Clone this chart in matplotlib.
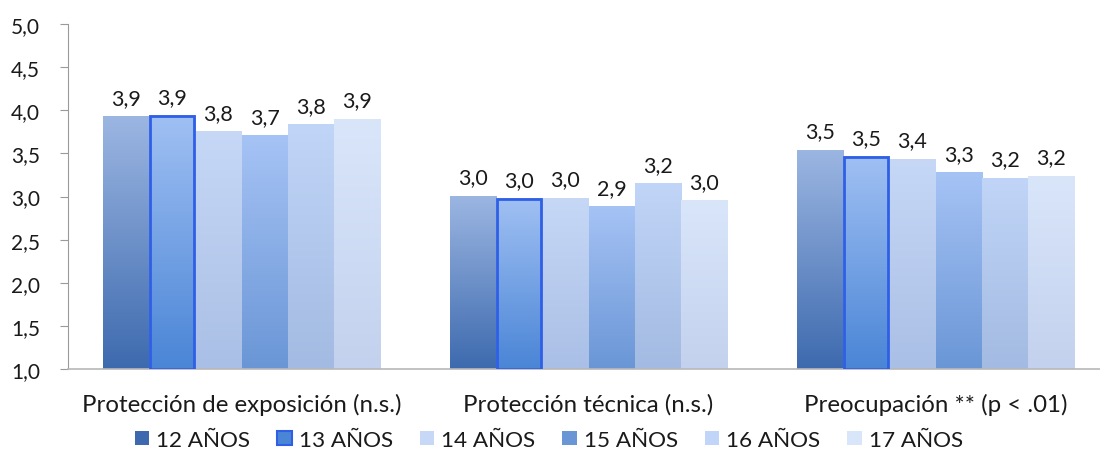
import matplotlib
matplotlib.use('Agg')
import matplotlib.pyplot as plt
import numpy as np
from matplotlib.colors import LinearSegmentedColormap
from matplotlib.patches import Patch

plt.rcParams['font.family'] = ['Lato', 'DejaVu Sans']

categories = ['Protección de exposición (n.s.)', 'Protección técnica (n.s.)', 'Preocupación ** (p < .01)']
ages = ['12 AÑOS', '13 AÑOS', '14 AÑOS', '15 AÑOS', '16 AÑOS', '17 AÑOS']
values = {
    '12 AÑOS': [3.93, 3.01, 3.54],
    '13 AÑOS': [3.94, 2.98, 3.47],
    '14 AÑOS': [3.76, 2.985, 3.44],
    '15 AÑOS': [3.71, 2.89, 3.28],
    '16 AÑOS': [3.84, 3.155, 3.22],
    '17 AÑOS': [3.90, 2.96, 3.24],
}
labels = {
    '12 AÑOS': ['3,9', '3,0', '3,5'],
    '13 AÑOS': ['3,9', '3,0', '3,5'],
    '14 AÑOS': ['3,8', '3,0', '3,4'],
    '15 AÑOS': ['3,7', '2,9', '3,3'],
    '16 AÑOS': ['3,8', '3,2', '3,2'],
    '17 AÑOS': ['3,9', '3,0', '3,2'],
}
# (bottom colour, top colour) for the gradient fill
grad = {
    '12 AÑOS': ('#3d6aae', '#9cb6e2'),
    '13 AÑOS': ('#4a85d6', '#a0c0f3'),
    '14 AÑOS': ('#aabfe6', '#c6d8f6'),
    '15 AÑOS': ('#6a96d6', '#a6c3f5'),
    '16 AÑOS': ('#a3bae2', '#c0d5f7'),
    '17 AÑOS': ('#c3d1ee', '#d9e6fa'),
}
edge13 = '#2f5fe6'
ymin, ymax = 1.0, 5.0

fig = plt.figure(figsize=(11, 4.56), dpi=100)
ax = fig.add_axes([68/1100, 1-370/456, 1041/1100, 345/456])

x = np.arange(len(categories))
w = 0.8 / len(ages)
grad_img = np.linspace(0, 1, 256).reshape(-1, 1)

for i, age in enumerate(ages):
    pos = x - 0.4 + w/2 + i*w
    cmap = LinearSegmentedColormap.from_list(age, list(grad[age]))
    lw = 2 if age == '13 AÑOS' else 0
    bars = ax.bar(pos, np.array(values[age]) - ymin, w, bottom=ymin, color='none', edgecolor='none')
    for b, lab in zip(bars, labels[age]):
        x0, y0 = b.get_x(), b.get_y()
        x1, y1 = x0 + b.get_width(), y0 + b.get_height()
        im = ax.imshow(grad_img, cmap=cmap, origin='lower', extent=[x0, x1, y0, y1],
                       aspect='auto', zorder=2)
        im.set_clip_path(b)
        if lw:
            ax.add_patch(plt.Rectangle((x0 + 0.004, y0), b.get_width() - 0.008, b.get_height() - 0.01,
                                       fill=False, edgecolor=edge13, linewidth=lw, zorder=3))
        ax.annotate(lab, (b.get_x() + b.get_width()/2, y1), xytext=(0, 6), textcoords='offset points',
                    ha='center', va='bottom', fontsize=15.5, color='#1a1a1a')

ax.set_xlim(-0.5, len(categories) - 0.5)
ax.set_ylim(ymin, ymax)
ticks = np.arange(1.0, 5.01, 0.5)
ax.set_yticks(ticks)
ax.set_yticklabels([f'{t:.1f}'.replace('.', ',') for t in ticks])
ax.set_xticks(x)
ax.set_xticklabels(categories)
ax.tick_params(axis='x', length=0, pad=17, labelsize=17.3, labelcolor='#1a1a1a')
ax.tick_params(axis='y', length=6, width=0.8, color='#9a9a9a', pad=14, labelsize=15, labelcolor='#1a1a1a')
for s in ['top', 'right']:
    ax.spines[s].set_visible(False)
ax.spines['left'].set_color('#9a9a9a')
ax.spines['bottom'].set_color('#b8b8b8')
ax.spines['bottom'].set_linewidth(1.2)

handles = []
for age in ages:
    ec = edge13 if age == '13 AÑOS' else 'none'
    fc = grad[age][0] if age in ('12 AÑOS', '13 AÑOS', '15 AÑOS') else grad[age][1]
    handles.append(Patch(facecolor=fc, edgecolor=ec, linewidth=1.5, label=age))
fig.legend(handles=handles, loc='center', bbox_to_anchor=(549/1100, 1 - 441/456), ncol=6, frameon=False,
           fontsize=16.2, handlelength=0.63, handleheight=0.63, handletextpad=0.32, columnspacing=1.2,
           labelcolor='#1a1a1a')

fig.savefig('out.png', dpi=100)
